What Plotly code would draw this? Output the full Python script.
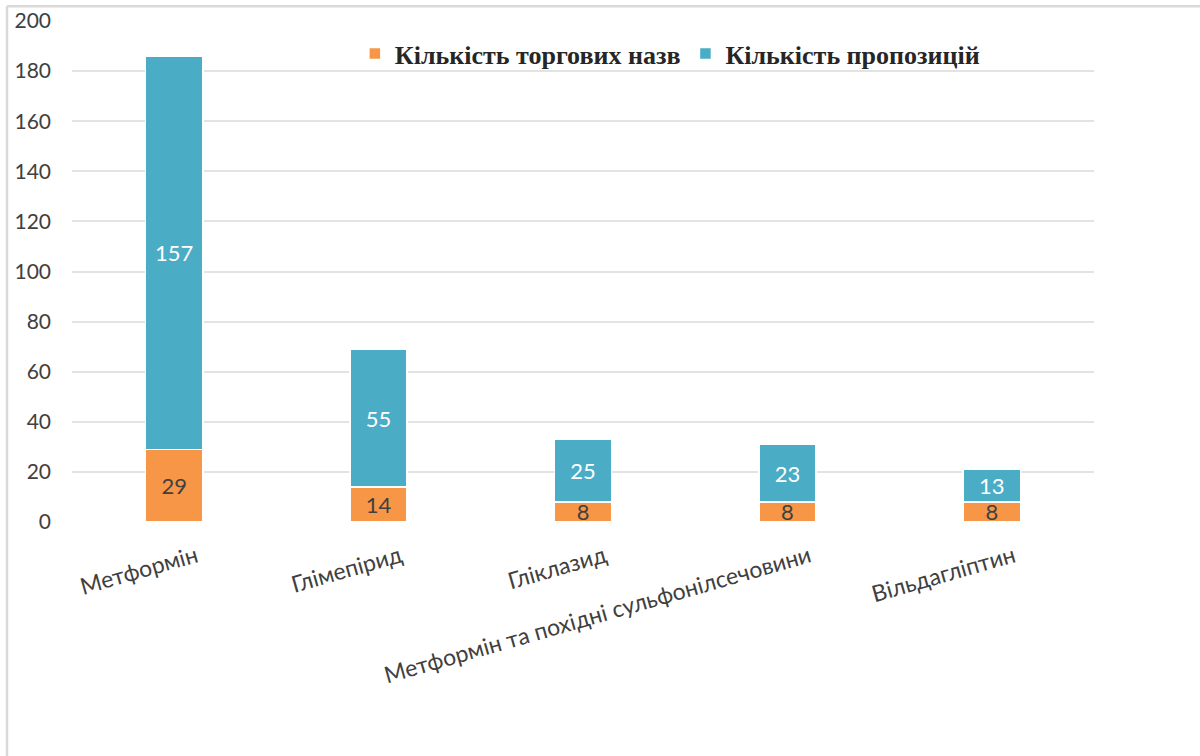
import plotly.graph_objects as go

categories = ["Метформін", "Глімепірид", "Гліклазид",
              "Метформін та похідні сульфонілсечовини", "Вільдагліптин"]
trade_names = [29, 14, 8, 8, 8]
offers = [157, 55, 25, 23, 13]
y_ticks = [0, 20, 40, 60, 80, 100, 120, 140, 160, 180, 200]

ORANGE = "#F79646"
BLUE = "#4BACC6"
SANS = "Lato, Carlito, 'Open Sans', sans-serif"
SERIF = "'Liberation Serif', 'Times New Roman', serif"

fig = go.Figure()
fig.add_trace(go.Bar(
    name="Кількість торгових назв",
    x=categories, y=trade_names,
    marker=dict(color=ORANGE, line=dict(color="white", width=1.5)),
    text=trade_names, textposition="inside", insidetextanchor="middle",
    textangle=0, textfont=dict(family=SANS, size=22, color="#404040"),
    width=0.28,
))
fig.add_trace(go.Bar(
    name="Кількість пропозицій",
    x=categories, y=offers,
    marker=dict(color=BLUE, line=dict(color="white", width=1.5)),
    text=offers, textposition="inside", insidetextanchor="middle",
    textangle=0, textfont=dict(family=SANS, size=22, color="white"),
    width=0.28,
))

fig.update_layout(
    barmode="stack",
    width=1200, height=756,
    margin=dict(l=72, r=106, t=21, b=234),
    paper_bgcolor="white", plot_bgcolor="white",
    uniformtext=dict(minsize=22, mode="show"),
    legend=dict(
        orientation="h", x=0.585, y=0.935, xanchor="center", yanchor="middle",
        font=dict(family=SERIF, size=26, color="#262626", weight="bold"),
        bgcolor="rgba(0,0,0,0)", traceorder="normal",
    ),
    xaxis=dict(
        type="category", range=[-0.5, 4.5], showgrid=False, zeroline=False,
        showline=False, ticks="", tickangle=-16, automargin=False,
        tickfont=dict(family=SANS, size=23, color="#404040"),
        ticklabelshift=22, ticklabelstandoff=16,
    ),
    yaxis=dict(
        range=[0, 200], tickvals=y_ticks, showgrid=True, automargin=False,
        gridcolor="#e3e3e3", gridwidth=2, zeroline=False, showline=False,
        tickfont=dict(family=SANS, size=21, color="#404040"),
        ticklabelstandoff=20,
    ),
    showlegend=True,
)

# chart frame (left and top edges)
fig.add_shape(type="line", xref="paper", yref="paper",
              x0=-0.0636, x1=1.2, y0=1.0293, y1=1.0293,
              line=dict(color="#d9d9d9", width=2.5))
fig.add_shape(type="line", xref="paper", yref="paper",
              x0=-0.0636, x1=-0.0636, y0=-0.5, y1=1.0293,
              line=dict(color="#d9d9d9", width=2.5))

fig.write_html("out.html")
